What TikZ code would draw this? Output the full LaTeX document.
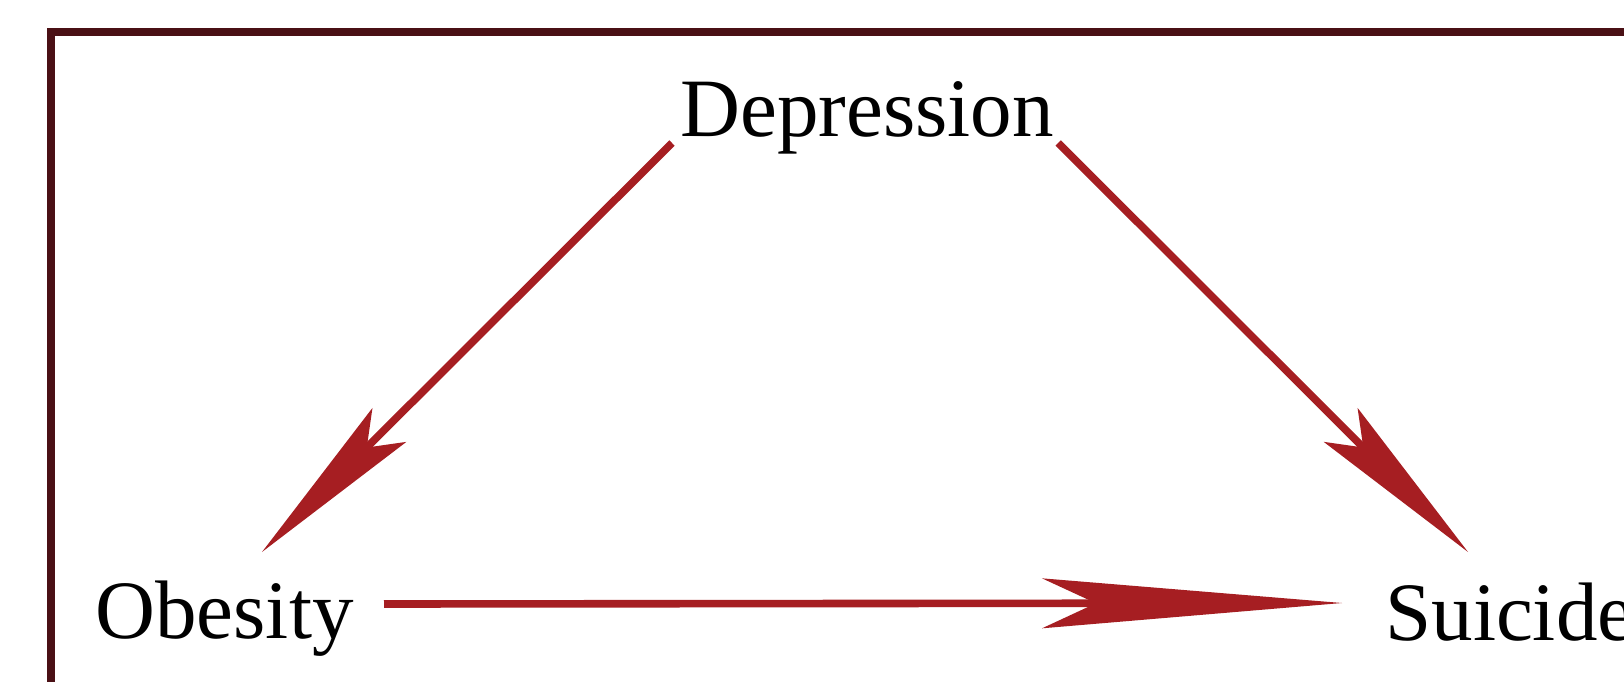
\documentclass[tikz,border=0pt]{standalone}
\usepackage{fontspec}
\setmainfont{Liberation Serif}
\usetikzlibrary{arrows.meta}
\definecolor{framebrown}{RGB}{74,16,21}
\definecolor{arrowred}{RGB}{166,30,34}

\begin{document}
\begin{tikzpicture}[x=0.5pt, y=-0.5pt,
  lbl/.style={inner sep=0pt, anchor=base west, font=\fontsize{41.5}{49}\selectfont},
  arr/.style={draw=arrowred, line width=3.8pt, -{Stealth[length=90pt, width=24pt, inset=16pt, line width=0pt]}},
  longarr/.style={draw=arrowred, line width=3.8pt, -{Stealth[length=150pt, width=25pt, inset=27pt, line width=0pt]}}]
\useasboundingbox (0,0) rectangle (1624,681);
\clip (0,0) rectangle (1624,681);
\draw[framebrown, line width=4pt] (51,32) rectangle (1700,760);
\node[lbl] (dep) at (680,136) {Depression};
\node[lbl] (obe) at (95,638) {Obesity};
\node[lbl] (sui) at (1385,640) {Suicide};
\draw[arr] ([shift={(-8,7)}]dep.base west) -- ([shift={(167,-86)}]obe.base west);
\draw[arr] ([shift={(4,7)}]dep.base east) -- ([shift={(83,-88)}]sui.base west);
\draw[longarr] ([shift={(30,-34)}]obe.base east) -- ([shift={(-43,-37)}]sui.base west);
\end{tikzpicture}
\end{document}
